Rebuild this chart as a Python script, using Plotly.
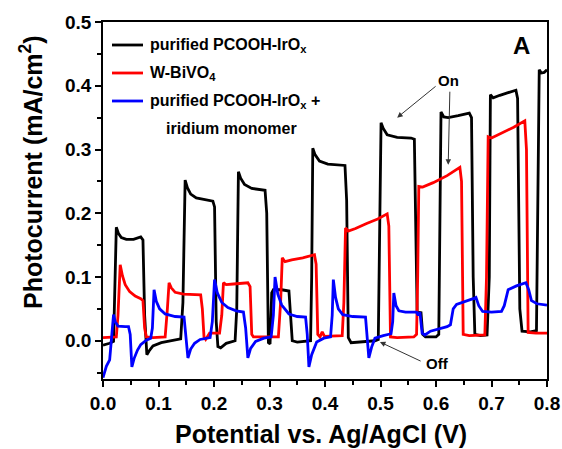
import plotly.graph_objects as go

# ---- photocurrent transients under chopped light ----
pcooh_x = [0.000, 0.012, 0.019, 0.021, 0.024, 0.028, 0.033, 0.042, 0.055, 0.068, 0.072, 0.075,
           0.079, 0.083, 0.090, 0.105, 0.125, 0.140, 0.144, 0.148, 0.152, 0.158, 0.168, 0.185,
           0.198, 0.201, 0.204, 0.207, 0.212, 0.222, 0.238, 0.241, 0.244, 0.248, 0.255, 0.268,
           0.285, 0.292, 0.295, 0.298, 0.301, 0.304, 0.307, 0.322, 0.335, 0.338, 0.341, 0.350,
           0.365, 0.374, 0.376, 0.378, 0.382, 0.390, 0.405, 0.425, 0.436, 0.439, 0.442, 0.447,
           0.465, 0.490, 0.496, 0.498, 0.501, 0.505, 0.512, 0.530, 0.555, 0.561, 0.564, 0.566,
           0.573, 0.576, 0.581, 0.600, 0.605, 0.607, 0.609, 0.614, 0.622, 0.640, 0.660, 0.664,
           0.667, 0.670, 0.680, 0.692, 0.696, 0.698, 0.703, 0.715, 0.730, 0.744, 0.747, 0.751,
           0.755, 0.770, 0.781, 0.783, 0.786, 0.790, 0.795, 0.800]
pcooh_y = [-0.007, -0.004, -0.001, 0.060, 0.178, 0.168, 0.162, 0.159, 0.159, 0.163, 0.158, 0.040,
           -0.022, -0.016, -0.008, -0.003, 0.001, 0.003, 0.060, 0.252, 0.240, 0.230, 0.224, 0.221,
           0.219, 0.210, 0.030, -0.009, -0.011, -0.004, 0.000, 0.050, 0.265, 0.255, 0.245, 0.239,
           0.237, 0.236, 0.200, -0.003, -0.005, 0.075, 0.080, 0.080, 0.078, 0.040, 0.000, -0.002,
           -0.001, 0.000, 0.100, 0.302, 0.292, 0.282, 0.277, 0.276, 0.275, 0.220, 0.005, -0.003,
           -0.002, 0.000, 0.002, 0.150, 0.342, 0.333, 0.323, 0.319, 0.318, 0.316, 0.150, 0.045,
           0.044, 0.010, 0.006, 0.006, 0.010, 0.200, 0.359, 0.351, 0.350, 0.353, 0.357, 0.350,
           0.100, 0.010, 0.008, 0.009, 0.100, 0.386, 0.381, 0.385, 0.389, 0.393, 0.380, 0.050,
           0.015, 0.014, 0.016, 0.200, 0.425, 0.420, 0.421, 0.425]

bivo4_x = [0.000, 0.024, 0.027, 0.031, 0.035, 0.040, 0.048, 0.058, 0.068, 0.072, 0.075, 0.078,
           0.090, 0.112, 0.116, 0.119, 0.123, 0.130, 0.145, 0.165, 0.176, 0.179, 0.182, 0.185,
           0.188, 0.192, 0.210, 0.214, 0.217, 0.222, 0.235, 0.261, 0.265, 0.268, 0.271, 0.300,
           0.316, 0.320, 0.323, 0.328, 0.340, 0.360, 0.381, 0.384, 0.387, 0.391, 0.395, 0.399,
           0.420, 0.431, 0.434, 0.437, 0.442, 0.455, 0.475, 0.495, 0.512, 0.515, 0.518, 0.530,
           0.560, 0.565, 0.567, 0.569, 0.576, 0.595, 0.620, 0.643, 0.646, 0.649, 0.660, 0.688,
           0.691, 0.694, 0.700, 0.720, 0.740, 0.760, 0.763, 0.766, 0.780, 0.800]
bivo4_y = [0.005, 0.006, 0.040, 0.119, 0.102, 0.088, 0.077, 0.070, 0.066, 0.063, 0.020, 0.006,
           0.005, 0.006, 0.050, 0.091, 0.083, 0.076, 0.073, 0.072, 0.072, 0.050, 0.006, 0.002,
           0.006, 0.012, 0.012, 0.040, 0.091, 0.088, 0.089, 0.091, 0.085, 0.010, 0.006, 0.006,
           0.006, 0.060, 0.130, 0.124, 0.127, 0.130, 0.135, 0.120, 0.010, 0.006, 0.014, 0.007,
           0.007, 0.008, 0.060, 0.177, 0.172, 0.176, 0.184, 0.191, 0.199, 0.180, 0.006, 0.005,
           0.006, 0.010, 0.100, 0.242, 0.241, 0.248, 0.259, 0.272, 0.250, 0.010, 0.008, 0.009,
           0.100, 0.320, 0.318, 0.326, 0.335, 0.345, 0.300, 0.013, 0.012, 0.012]

mono_x = [0.000, 0.006, 0.012, 0.016, 0.019, 0.022, 0.027, 0.040, 0.046, 0.049, 0.052, 0.056,
          0.062, 0.068, 0.078, 0.086, 0.089, 0.092, 0.096, 0.102, 0.112, 0.130, 0.146, 0.149,
          0.153, 0.158, 0.165, 0.175, 0.193, 0.197, 0.201, 0.206, 0.214, 0.225, 0.240, 0.253,
          0.257, 0.261, 0.266, 0.275, 0.290, 0.303, 0.307, 0.310, 0.315, 0.322, 0.335, 0.350,
          0.365, 0.368, 0.371, 0.376, 0.385, 0.398, 0.410, 0.413, 0.415, 0.419, 0.424, 0.432,
          0.450, 0.473, 0.476, 0.479, 0.484, 0.490, 0.505, 0.519, 0.522, 0.524, 0.528, 0.533,
          0.545, 0.565, 0.568, 0.571, 0.575, 0.580, 0.590, 0.605, 0.620, 0.626, 0.631, 0.637,
          0.655, 0.667, 0.672, 0.677, 0.684, 0.700, 0.718, 0.723, 0.730, 0.745, 0.762, 0.767,
          0.772, 0.782, 0.800]
mono_y = [-0.058, -0.040, -0.030, 0.010, 0.041, 0.030, 0.023, 0.022, 0.022, 0.010, -0.041, -0.028,
          -0.015, -0.006, 0.001, 0.004, 0.020, 0.080, 0.062, 0.050, 0.042, 0.038, 0.037, 0.010,
          -0.027, -0.013, -0.004, 0.002, 0.005, 0.030, 0.096, 0.075, 0.060, 0.052, 0.047, 0.045,
          0.020, -0.027, -0.012, -0.001, 0.004, 0.006, 0.040, 0.100, 0.073, 0.056, 0.042, 0.038,
          0.037, 0.010, -0.041, -0.022, -0.002, 0.004, 0.006, 0.040, 0.096, 0.068, 0.050, 0.041,
          0.038, 0.037, 0.010, -0.027, -0.010, 0.004, 0.008, 0.011, 0.030, 0.075, 0.055, 0.047,
          0.045, 0.045, 0.040, 0.045, 0.012, 0.009, 0.015, 0.019, 0.022, 0.025, 0.050, 0.057,
          0.062, 0.066, 0.068, 0.055, 0.046, 0.045, 0.046, 0.055, 0.080, 0.086, 0.091, 0.080,
          0.063, 0.058, 0.056]

x_ticks = [0.0, 0.1, 0.2, 0.3, 0.4, 0.5, 0.6, 0.7, 0.8]
y_ticks = [0.0, 0.1, 0.2, 0.3, 0.4, 0.5]

series = [
    ("purified PCOOH-IrO<sub>x</sub>", pcooh_x, pcooh_y, "#000000"),
    ("W-BiVO<sub>4</sub>", bivo4_x, bivo4_y, "#ff0000"),
    ("purified PCOOH-IrO<sub>x</sub> +", mono_x, mono_y, "#0000ff"),
]

W, H = 562, 449
ML, MR, MT, MB = 103, 15, 22, 70
PW, PH = W - ML - MR, H - MT - MB
FONT = "Arial, Liberation Sans, sans-serif"


def paper_x(p):
    return (p - ML) / PW


def paper_y(p):
    return (H - MB - p) / PH


fig = go.Figure()
for name, xs, ys, color in series:
    fig.add_trace(go.Scatter(x=xs, y=ys, mode="lines", name=name,
                             line=dict(color=color, width=2.8), showlegend=False))

axis_common = dict(
    showline=True, mirror=True, linecolor="black", linewidth=1.5,
    showgrid=False, zeroline=False, ticks="outside", ticklen=6, tickwidth=1.5,
    tickcolor="black", tickformat=".1f",
    tickfont=dict(family=FONT, size=19, color="black", weight="bold"),
    minor=dict(ticks="outside", ticklen=4, tickwidth=1.5, tickcolor="black", showgrid=False),
)

fig.update_xaxes(range=[0, 0.8], tickvals=x_ticks, minor_dtick=0.05, minor_tick0=0, **axis_common)
fig.update_yaxes(range=[-0.06, 0.5], tickvals=y_ticks, minor_dtick=0.05, minor_tick0=0, **axis_common)

annotations = []
shapes = []

# axis titles
annotations.append(dict(text="Potential vs. Ag/AgCl (V)", x=0.49, y=paper_y(434), xref="paper", yref="paper",
                        showarrow=False, xanchor="center", yanchor="middle",
                        font=dict(family=FONT, size=25, color="black", weight="bold")))
annotations.append(dict(text="Photocurrent (mA/cm<sup>2</sup>)", x=paper_x(31), y=paper_y(172),
                        xref="paper", yref="paper", showarrow=False, textangle=-90,
                        xanchor="center", yanchor="middle",
                        font=dict(family=FONT, size=25, color="black", weight="bold")))

# panel letter
annotations.append(dict(text="A", x=paper_x(521), y=paper_y(46), xref="paper", yref="paper",
                        showarrow=False, xanchor="center", yanchor="middle",
                        font=dict(family=FONT, size=24, color="black", weight="bold")))

# legend block
legend_rows = [45, 73, 101]
for (name, _, _, color), row in zip(series, legend_rows):
    shapes.append(dict(type="line", xref="paper", yref="paper",
                       x0=paper_x(112), x1=paper_x(143), y0=paper_y(row), y1=paper_y(row),
                       line=dict(color=color, width=2.8)))
    annotations.append(dict(text=name, x=paper_x(148), y=paper_y(row), xref="paper", yref="paper",
                            showarrow=False, xanchor="left", yanchor="middle",
                            font=dict(family=FONT, size=16, color="black", weight="bold")))
annotations.append(dict(text="iridium monomer", x=paper_x(231), y=paper_y(128), xref="paper", yref="paper",
                        showarrow=False, xanchor="center", yanchor="middle",
                        font=dict(family=FONT, size=16, color="black", weight="bold")))

# On / Off markers
label_font = dict(family=FONT, size=15, color="black", weight="bold")
annotations.append(dict(text="On", x=0.623, y=0.409, showarrow=False, xanchor="center",
                        yanchor="middle", font=label_font))
annotations.append(dict(text="Off", x=0.603, y=-0.036, showarrow=False, xanchor="center",
                        yanchor="middle", font=label_font))
arrow_style = dict(text="", showarrow=True, axref="x", ayref="y", arrowhead=2, arrowsize=1.1,
                   arrowwidth=1, arrowcolor="#333333", standoff=0, startstandoff=0)
annotations.append(dict(x=0.530, y=0.350, ax=0.602, ay=0.401, **arrow_style))
annotations.append(dict(x=0.622, y=0.276, ax=0.625, ay=0.393, **arrow_style))
annotations.append(dict(x=0.499, y=-0.002, ax=0.575, ay=-0.033, **arrow_style))

fig.update_layout(
    width=W, height=H,
    margin=dict(l=ML, r=MR, t=MT, b=MB, autoexpand=False),
    plot_bgcolor="white", paper_bgcolor="white",
    annotations=annotations, shapes=shapes,
    showlegend=False,
)

fig.write_html("out.html")
